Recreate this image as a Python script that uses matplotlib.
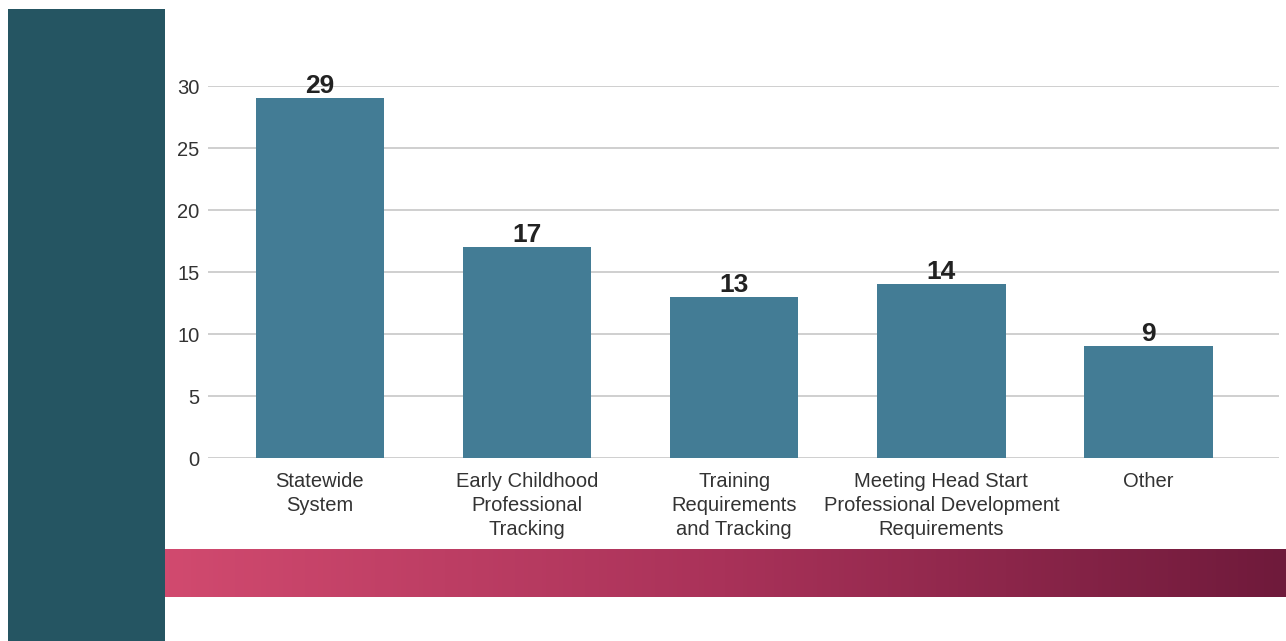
import numpy as np
import matplotlib.pyplot as plt
from matplotlib.colors import LinearSegmentedColormap

categories = ['Statewide\nSystem', 'Early Childhood\nProfessional\nTracking',
              'Training\nRequirements\nand Tracking',
              'Meeting Head Start\nProfessional Development\nRequirements', 'Other']
values = [29, 17, 13, 14, 9]
yticks = [0, 5, 10, 15, 20, 25, 30]

plt.rcParams['font.family'] = ['Liberation Sans', 'DejaVu Sans']

fig = plt.figure(figsize=(12.86, 6.41), dpi=100)
W, H = 1286.0, 641.0

# left dark panel
panel = fig.add_axes([8/W, 0, (165-8)/W, (641-9)/H])
panel.set_facecolor('#255562')
panel.set_xticks([]); panel.set_yticks([])
for s in panel.spines.values():
    s.set_visible(False)

# gradient band
band = fig.add_axes([165/W, (641-597)/H, (1286-165)/W, 48/H])
cmap = LinearSegmentedColormap.from_list('band', ['#d14a6f', '#a93259', '#6f1a3b'])
band.imshow(np.linspace(0, 1, 256).reshape(1, -1), aspect='auto', cmap=cmap)
band.axis('off')

ax = fig.add_axes([208/W, (641-458)/H, (1279-208)/W, (458-86)/H])
x = np.arange(len(values))
ax.bar(x, values, width=0.62, color='#437c95', zorder=3)
for xi, v in zip(x, values):
    ax.text(xi, v + 0.02, str(v), ha='center', va='bottom', fontsize=19,
            fontweight='bold', color='#222222', clip_on=False, zorder=4)

ax.set_xlim(-0.54, 4.63)
ax.set_ylim(0, 30)
ax.set_yticks(yticks)
ax.yaxis.grid(True, color='#cccccc', linewidth=1.3, zorder=0)
ax.set_xticks(x)
ax.set_xticklabels(categories, fontsize=14.5, color='#333333', linespacing=1.35)
ax.tick_params(axis='y', labelsize=14.5, labelcolor='#333333', length=0, pad=6)
ax.tick_params(axis='x', length=0, pad=10)
for s in ax.spines.values():
    s.set_visible(False)

fig.savefig('out.png', dpi=100)
